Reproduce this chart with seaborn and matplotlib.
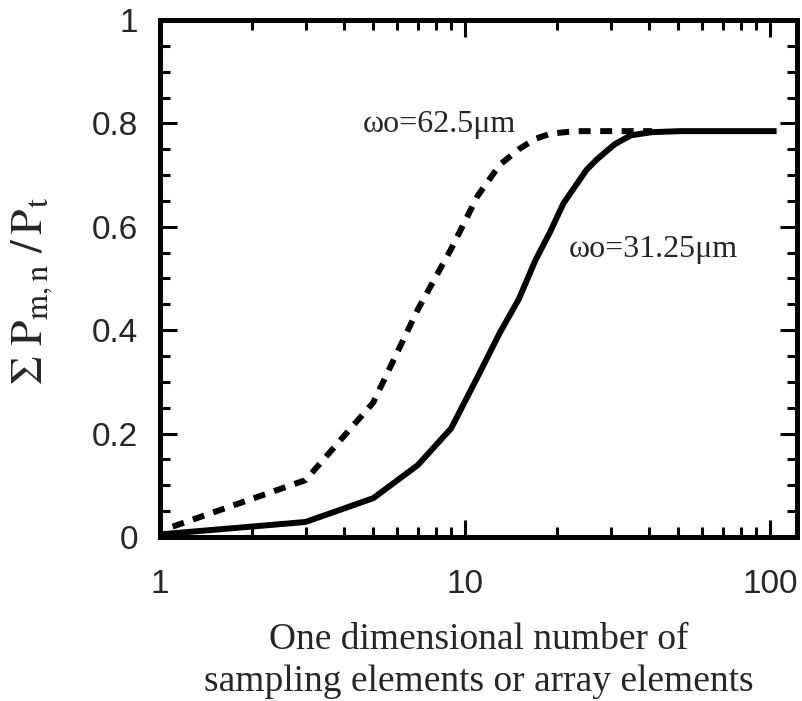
import matplotlib
matplotlib.use("Agg")
import matplotlib.pyplot as plt
import matplotlib.ticker as mticker
import seaborn as sns
import pandas as pd

# ---- data ----
x_31 = [1, 3, 5, 7, 9, 11, 13, 15, 17, 19, 21, 25, 27, 31, 35, 41, 51, 105]
y_31 = [0.005, 0.029, 0.075, 0.139, 0.21, 0.31, 0.395, 0.46, 0.535, 0.59,
        0.645, 0.71, 0.73, 0.76, 0.777, 0.783, 0.785, 0.785]
x_62 = [1.1, 3, 5, 7, 9, 11, 13, 15, 17, 19, 23, 41]
y_62 = [0.02, 0.11, 0.26, 0.44, 0.557, 0.66, 0.72, 0.75, 0.77, 0.78, 0.785, 0.785]
label_31 = "ωo=31.25μm"
label_62 = "ωo=62.5μm"
x_ticks = [1, 10, 100]
x_ticklabels = ["1", "10", "100"]
y_ticks = [0, 0.2, 0.4, 0.6, 0.8, 1.0]
y_ticklabels = ["0", "0.2", "0.4", "0.6", "0.8", "1"]

df = pd.concat([
    pd.DataFrame({"n": x_31, "frac": y_31, "beam": label_31}),
    pd.DataFrame({"n": x_62, "frac": y_62, "beam": label_62}),
], ignore_index=True)

sns.set_style("ticks")
plt.rcParams["font.family"] = ["Liberation Sans", "DejaVu Sans"]
plt.rcParams["mathtext.fontset"] = "stix"

fig = plt.figure(figsize=(8.02, 7.01), dpi=100)
ax = fig.add_axes([0.1995, 0.234, 0.7943, 0.7375])

sns.lineplot(data=df, x="n", y="frac", style="beam",
             style_order=[label_31, label_62],
             dashes={label_31: "", label_62: (2.0, 1.6)},
             color="black", linewidth=4.3, legend=False, ax=ax,
             estimator=None, sort=False)
for ln in ax.get_lines():
    ln.set_dash_capstyle("butt")
    ln.set_solid_capstyle("butt")

ax.set_xscale("log")
ax.set_xlim(1, 122.5)
ax.set_ylim(0, 1)

ax.set_xticks(x_ticks)
ax.set_xticklabels(x_ticklabels)
ax.set_yticks(y_ticks)
ax.set_yticklabels(y_ticklabels)
ax.xaxis.set_minor_locator(mticker.LogLocator(base=10, subs=range(2, 10), numticks=20))
ax.xaxis.set_minor_formatter(mticker.NullFormatter())
ax.yaxis.set_minor_locator(mticker.MultipleLocator(0.05))

ax.tick_params(which="both", direction="in", top=True, right=True,
               color="black", width=2.2)
ax.tick_params(which="major", length=12, labelsize=24)
ax.tick_params(which="minor", length=7.5)
ax.tick_params(axis="x", which="major", pad=23)
ax.tick_params(axis="y", which="major", pad=16)

for sp in ax.spines.values():
    sp.set_linewidth(3.6)
    sp.set_color("black")
    sp.set_visible(True)

serif = ["Liberation Serif", "DejaVu Serif"]

ax.set_xlabel("One dimensional number of\nsampling elements or array elements",
              family=serif, fontsize=27, labelpad=16, linespacing=1.3)
ax.set_ylabel(r"$\Sigma\ \mathrm{P}_{\mathrm{m,n}}\ /\,\mathrm{P}_{\mathrm{t}}$",
              fontsize=33, labelpad=26)
ax.yaxis.label.set_y(0.475)

ax.text(4.63, 0.783, label_62, family=serif, fontsize=23,
        ha="left", va="baseline")
ax.text(21.8, 0.542, label_31, family=serif, fontsize=23,
        ha="left", va="baseline")

fig.savefig("out.png", dpi=100)
